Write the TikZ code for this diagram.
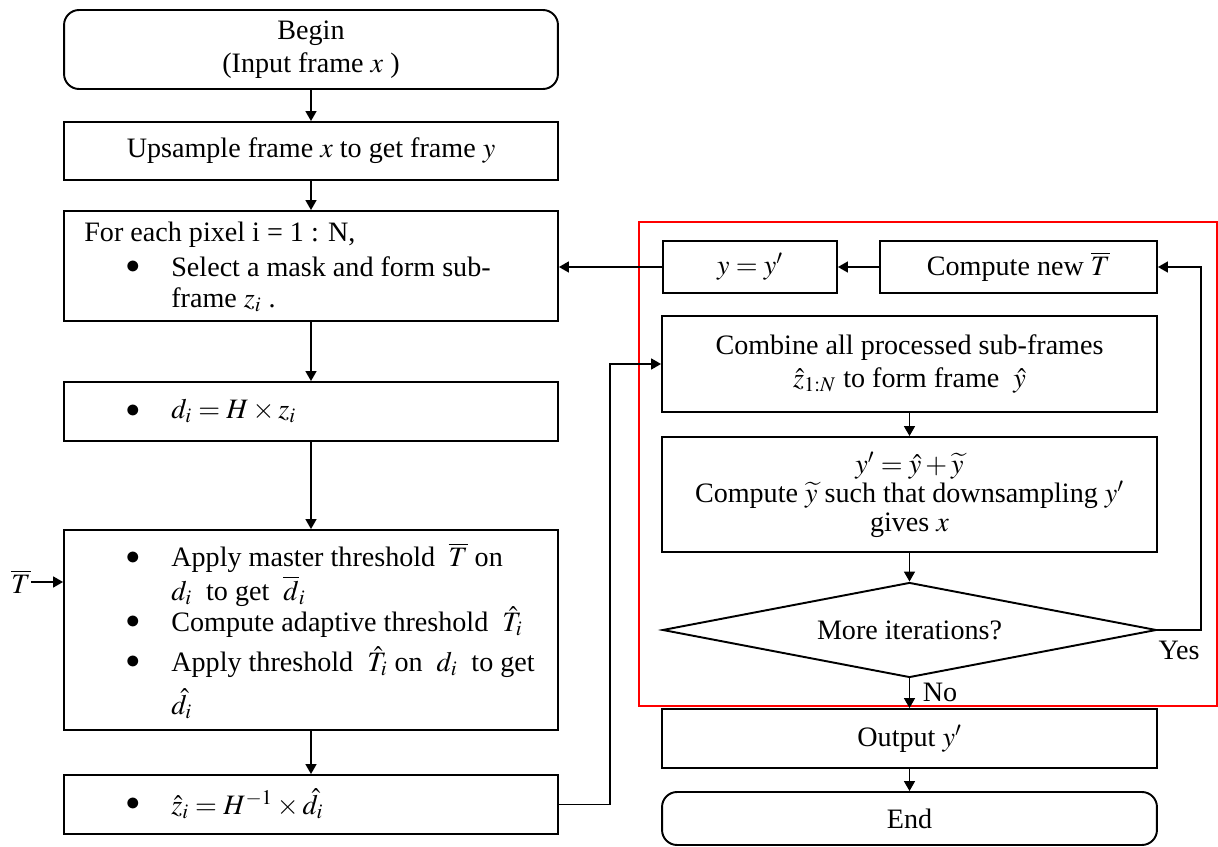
\documentclass[tikz,border=0pt]{standalone}
\usepackage{mathptmx}
\usepackage{fontspec}
\setmainfont{Liberation Serif}
\usetikzlibrary{arrows.meta,shapes.geometric}

\begin{document}
\begin{tikzpicture}[x=0.02cm, y=-0.02cm,
  every node/.append style={font=\fontsize{16}{18.5}\selectfont},
  boxsty/.style={draw, line width=1.1pt, rectangle, inner sep=0pt, align=center},
  roundsty/.style={boxsty, rounded corners=0.3cm},
  decsty/.style={draw, line width=1.1pt, diamond, aspect=5.2, inner sep=0pt, minimum width=9.88cm, minimum height=1.9cm},
  txtsty/.style={inner sep=0pt, anchor=west},
  bulsty/.style={inner sep=0pt},
  arrow/.style={-{Triangle[length=0.2cm,width=0.22cm]}, line width=0.9pt},
  framesty/.style={red, line width=1.4pt}]

\useasboundingbox (0,0) rectangle (1218,847);

% left column
\node[roundsty, minimum width=9.88cm, minimum height=1.58cm] (begin) at (311,49.5) {Begin\\(Input frame $x$ )};
\node[boxsty, minimum width=9.88cm, minimum height=1.16cm] (ups) at (311,151) {Upsample frame $x$ to get frame $y$};
\node[boxsty, minimum width=9.88cm, minimum height=2.2cm] (each) at (311,266) {};
\node[boxsty, minimum width=9.88cm, minimum height=1.18cm] (dbox) at (311,411.5) {};
\node[boxsty, minimum width=9.88cm, minimum height=4cm] (thr) at (311,630) {};
\node[boxsty, minimum width=9.88cm, minimum height=1.18cm] (zbox) at (311,804.5) {};

\node[txtsty] (each1) at (84,235) {For each pixel i = 1 : N,};
\node[bulsty] (eachb) at (133,267) {$\bullet$};
\node[txtsty] (each2) at (171,267) {Select a mask and form sub-};
\node[txtsty] (each3) at (171,300) {frame $z_i$ .};

\node[bulsty] (db) at (133,411) {$\bullet$};
\node[txtsty] (dtxt) at (171,411) {$d_i = H \times z_i$};

\node[bulsty] (thrb1) at (133,558) {$\bullet$};
\node[txtsty] (thr1) at (171,558) {Apply master threshold $\;\overline{T}$ on};
\node[txtsty] (thr2) at (171,591) {$d_i$ \ to get \ $\overline{d}_i$};
\node[bulsty] (thrb2) at (133,622) {$\bullet$};
\node[txtsty] (thr3) at (171,622) {Compute adaptive threshold \ $\hat{T}_i$};
\node[bulsty] (thrb3) at (133,662) {$\bullet$};
\node[txtsty] (thr4) at (171,662) {Apply threshold \ $\hat{T}_i$ on \ $d_i$ \ to get};
\node[txtsty] (thr5) at (171,704) {$\hat{d}_i$};

\node[bulsty] (zb) at (133,804) {$\bullet$};
\node[txtsty] (ztxt) at (171,804) {$\hat{z}_i = H^{-1} \times \hat{d}_i$};

\node[inner sep=0pt] (Tbar) at (21,582) {$\overline{T}$};

% right column
\node[boxsty, minimum width=3.48cm, minimum height=1.04cm] (yy) at (750,267) {$y = y'$};
\node[boxsty, minimum width=5.54cm, minimum height=1.04cm] (newT) at (1018.5,267) {Compute new $\overline{T}$};
\node[boxsty, minimum width=9.9cm, minimum height=1.92cm] (comb) at (909.5,364) {Combine all processed sub-frames\\$\hat{z}_{1:N}$ to form frame \ $\hat{y}$};
\node[boxsty, minimum width=9.9cm, minimum height=2.3cm, font=\fontsize{16}{16.5}\selectfont] (ypr) at (909.5,494.5) {$y' = \hat{y} + \widetilde{y}$\\Compute $\widetilde{y}$ such that downsampling $y'$\\gives $x$};
\node[decsty] (dec) at (909.5,630) {More iterations?};
\node[boxsty, minimum width=9.9cm, minimum height=1.18cm] (out) at (909.5,738.5) {Output $y'$};
\node[roundsty, minimum width=9.9cm, minimum height=1.06cm] (endb) at (909.5,818.5) {End};

\node[inner sep=0pt] (yes) at (1179,650) {Yes};
\node[inner sep=0pt] (no) at (940,692) {No};

\draw[framesty] (639,222) rectangle (1217,706);

% connectors
\draw[arrow] (begin) -- (ups);
\draw[arrow] (ups) -- (each);
\draw[arrow] (each) -- (dbox);
\draw[arrow] (dbox) -- (thr);
\draw[arrow] (thr) -- (zbox);
\draw[arrow] (Tbar.east) -- (Tbar.east -| thr.west);

\coordinate (zr) at (610,804.5);
\draw[arrow] (zbox.east) -- (zr) |- (comb.west);

\draw[arrow] (newT) -- (yy);
\draw[arrow] (yy.west) -- (yy.west -| each.east);
\draw[arrow] (comb) -- (ypr);
\draw[arrow] (ypr) -- (dec);
\coordinate (decr) at (1201,630);
\draw[arrow] (dec.east) -- (decr) |- (newT.east);
\draw[arrow] (dec) -- (out);
\draw[arrow] (out) -- (endb);

\end{tikzpicture}
\end{document}
